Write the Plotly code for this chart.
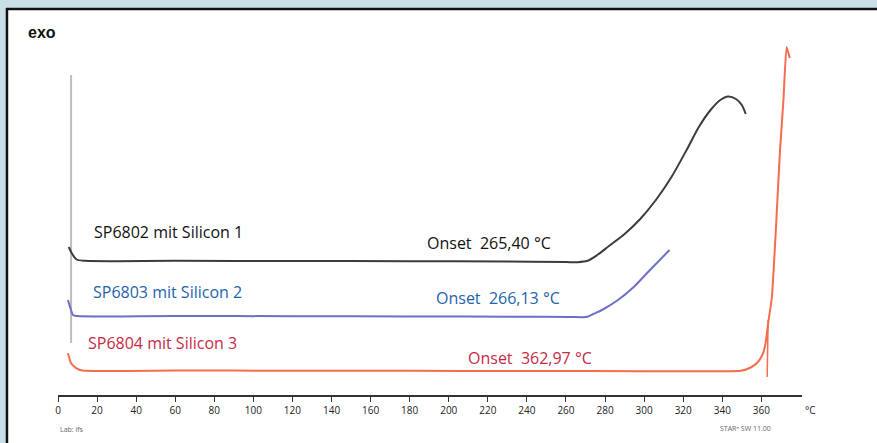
import plotly.graph_objects as go

# DSC-Kurven (Wärmestrom, willkürliche Einheiten, exo nach oben) über Temperatur in °C
temp_sp6802 = [5.5, 7.0, 9.5, 14, 60, 120, 180, 230, 260, 266, 271, 276, 282, 290, 298,
               306, 314, 322, 328, 334, 339, 343, 347, 350, 352]
hf_sp6802 = [14.8, 14.2, 13.55, 13.42, 13.42, 13.40, 13.38, 13.35, 13.30, 13.28, 13.42, 14.0,
             14.9, 16.1, 17.6, 19.5, 21.8, 24.6, 26.8, 28.5, 29.5, 29.85, 29.6, 29.0, 28.1]

temp_sp6803 = [5.1, 6.5, 7.7, 10, 60, 120, 180, 240, 262, 268, 271, 274, 278.4, 286.6,
               294.8, 303.0, 313.0]
hf_sp6803 = [9.5, 8.6, 8.0, 7.9, 7.9, 7.88, 7.85, 7.83, 7.8, 7.78, 7.82, 8.1, 8.5, 9.5,
             10.83, 12.5, 14.5]

temp_sp6804 = [5.1, 6.7, 9.5, 12.4, 60, 120, 180, 240, 300, 340, 349.5, 354.5, 358, 360.5,
               362, 363.5, 365.4, 367.5, 369.5, 371.3, 372.9, 374.5]
hf_sp6804 = [4.17, 3.17, 2.67, 2.45, 2.45, 2.43, 2.42, 2.4, 2.38, 2.37, 2.42, 2.75, 3.25, 4.0,
             5.0, 7.2, 9.8, 16.8, 24.3, 29.5, 34.8, 33.7]

# Einschwingsignal zu Messbeginn
temp_start = [6.7, 6.7]
hf_start = [32.0, 5.2]

# Onset-Temperaturen
onsets = [265.40, 266.13, 362.97]
onset_texts = ["Onset  265,40 °C", "Onset  266,13 °C", "Onset  362,97 °C"]
sample_names = ["SP6802 mit Silicon 1", "SP6803 mit Silicon 2", "SP6804 mit Silicon 3"]

tick_values = list(range(0, 361, 20))

curve_colors = ["#3c3c3c", "#6b70c6", "#f36d4e"]
text_colors = ["#111111", "#1e63ad", "#c62a46"]
curve_smoothing = [0.8, 0.8, 0.45]
label_font = "Open Sans, Noto Sans, sans-serif"

fig = go.Figure()

fig.add_trace(go.Scatter(x=temp_start, y=hf_start, mode="lines",
                         line=dict(color="#bdbdbd", width=2), showlegend=False,
                         hoverinfo="skip"))

curves = [(temp_sp6802, hf_sp6802), (temp_sp6803, hf_sp6803), (temp_sp6804, hf_sp6804)]
for (tx, hy), col, name, sm in zip(curves, curve_colors, sample_names, curve_smoothing):
    fig.add_trace(go.Scatter(x=tx, y=hy, mode="lines", name=name,
                             line=dict(color=col, width=2, shape="spline", smoothing=sm),
                             showlegend=False))

# Tangente am Onset der dritten Probe (steiler Anstieg bis unter die Basislinie)
fig.add_trace(go.Scatter(x=[onsets[2], onsets[2] + 0.5], y=[1.8, 7.5], mode="lines",
                         line=dict(color=curve_colors[2], width=1.5), showlegend=False,
                         hoverinfo="skip"))

# Probenbezeichnungen
name_pos = [(17.3, 16.3), (16.8, 10.33), (14.3, 5.17)]
for (ax, ay), txt, col in zip(name_pos, sample_names, text_colors):
    fig.add_annotation(x=ax, y=ay, xref="x", yref="y", text=txt, showarrow=False,
                       xanchor="left", yanchor="middle",
                       font=dict(family=label_font, size=16, color=col))

# Onset-Beschriftungen
onset_pos = [(187.9, 15.17), (192.2, 9.7), (208.9, 3.7)]
for (ax, ay), txt, col in zip(onset_pos, onset_texts, text_colors):
    fig.add_annotation(x=ax, y=ay, xref="x", yref="y", text=txt, showarrow=False,
                       xanchor="left", yanchor="middle",
                       font=dict(family=label_font, size=16, color=col))

fig.add_annotation(x=-0.043, y=0.954, xref="paper", yref="paper", text="<b>exo</b>",
                   showarrow=False, xanchor="left", yanchor="middle",
                   font=dict(family="Liberation Sans, Arial, sans-serif", size=16, color="#111111"))
fig.add_annotation(x=1.002, y=-0.04, xref="paper", yref="paper", text="°C",
                   showarrow=False, xanchor="left", yanchor="middle",
                   font=dict(family=label_font, size=10, color="#222222"))
fig.add_annotation(x=0.0, y=-0.092, xref="paper", yref="paper", text="Lab: ifs",
                   showarrow=False, xanchor="left", yanchor="middle",
                   font=dict(family=label_font, size=7, color="#666666"))
fig.add_annotation(x=0.887, y=-0.087, xref="paper", yref="paper", text="STARᵉ SW 11.00",
                   showarrow=False, xanchor="left", yanchor="middle",
                   font=dict(family=label_font, size=7, color="#666666"))

# Rahmen: hellblaue Streifen oben und links, schwarze Kante
frame_bg = "#c8dfe8"
fig.add_shape(type="rect", xref="paper", yref="paper", x0=-0.09, x1=1.12, y0=1.0184, y1=1.06,
              fillcolor=frame_bg, line=dict(width=0), layer="above")
fig.add_shape(type="rect", xref="paper", yref="paper", x0=-0.09, x1=-0.0699, y0=-0.14, y1=1.06,
              fillcolor=frame_bg, line=dict(width=0), layer="above")
fig.add_shape(type="line", xref="paper", yref="paper", x0=-0.0699, x1=1.12, y0=1.0158, y1=1.0158,
              line=dict(color="#111111", width=2.5), layer="above")
fig.add_shape(type="line", xref="paper", yref="paper", x0=-0.0686, x1=-0.0686, y0=-0.14, y1=1.0184,
              line=dict(color="#111111", width=2.5), layer="above")

fig.update_layout(
    width=877, height=443,
    margin=dict(l=58, r=75.3, t=15, b=48),
    paper_bgcolor="white", plot_bgcolor="white",
    xaxis=dict(range=[0, 380.8], tickvals=tick_values, ticks="outside", ticklen=5,
               tickcolor="#333333", showline=True, linecolor="#333333", linewidth=1.5,
               showgrid=False, zeroline=False,
               tickfont=dict(family=label_font, size=10, color="#222222")),
    yaxis=dict(range=[0, 38], visible=False, showgrid=False, zeroline=False),
)

fig.write_html("out.html")
